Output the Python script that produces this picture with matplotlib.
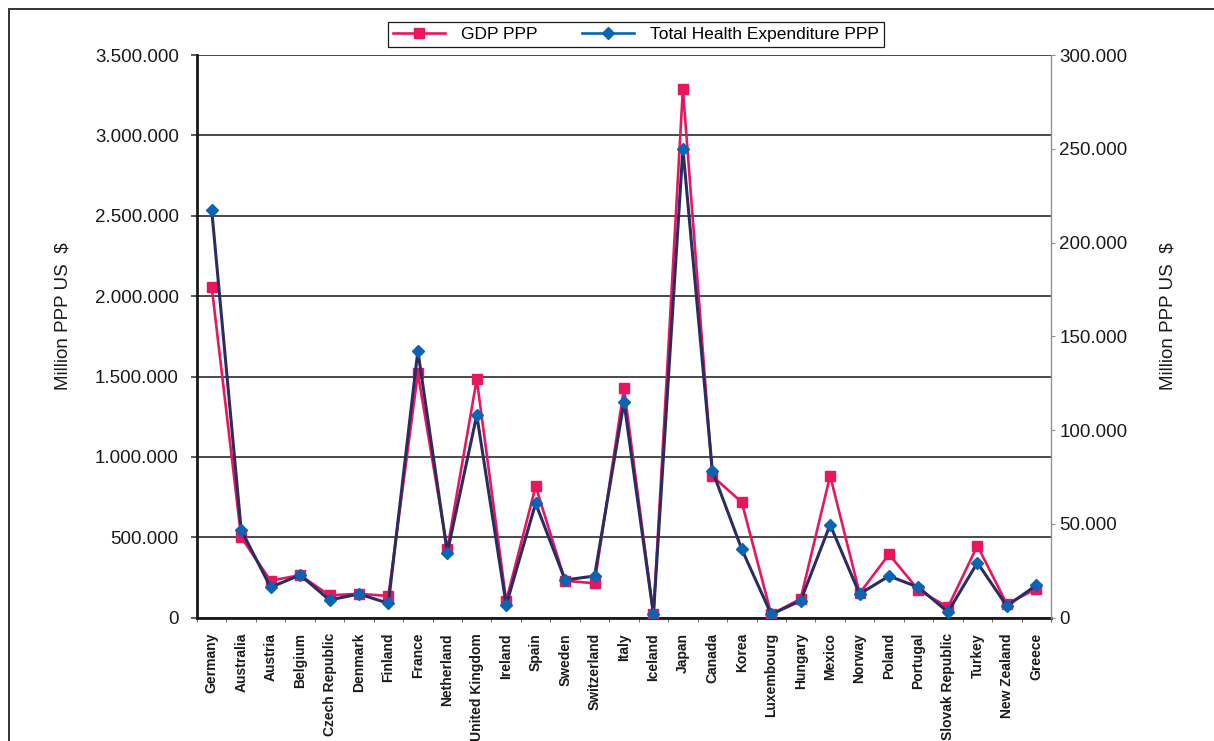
import matplotlib
matplotlib.use("Agg")
import matplotlib.pyplot as plt
import numpy as np
from matplotlib.lines import Line2D
from matplotlib.patches import Rectangle
from matplotlib.ticker import FuncFormatter, MultipleLocator

plt.rcParams['font.family'] = ['Liberation Sans', 'DejaVu Sans']

countries = ["Germany", "Australia", "Austria", "Belgium", "Czech Republic",
             "Denmark", "Finland", "France", "Netherland", "United Kingdom",
             "Ireland", "Spain", "Sweden", "Switzerland", "Italy", "Iceland",
             "Japan", "Canada", "Korea", "Luxembourg", "Hungary", "Mexico",
             "Norway", "Poland", "Portugal", "Slovak Republic", "Turkey",
             "New Zealand", "Greece"]

# million PPP US $
gdp_ppp = [2057000, 500000, 230000, 265000, 139000, 149000, 135000, 1520000,
           427000, 1483000, 104000, 817000, 230000, 214000, 1427000, 21000,
           3288000, 881000, 718000, 21000, 118000, 883000, 152000, 394000,
           172000, 65000, 448000, 85000, 180000]
health_ppp = [217300, 46750, 16200, 22760, 9440, 12630, 7680, 142300,
              34650, 108060, 6770, 60990, 20100, 22230, 115000, 1810,
              250000, 78370, 36460, 1810, 9060, 49580, 12630, 22230,
              16200, 3040, 29320, 6240, 17270]

pink = "#e8175d"
navy = "#2b2c63"
blue = "#0a64b4"

def dotted(v, pos):
    return "{:,.0f}".format(v).replace(",", ".")

fig = plt.figure(figsize=(12.14, 7.41), dpi=100)
ax = fig.add_axes([197 / 1214, 1 - 617.7 / 741, 854 / 1214, 562.7 / 741])
ax2 = ax.twinx()

x = np.arange(len(countries))
ax.plot(x, gdp_ppp, color=pink, lw=1.9, marker="s", ms=6.5,
        mfc=pink, mec=pink, zorder=3)
ax2.plot(x, health_ppp, color=navy, lw=2.2, marker="D", ms=5.8,
         mfc=blue, mec=blue, zorder=3)

ax.set_xlim(-0.5, len(countries) - 0.5)
ax.set_ylim(0, 3500000)
ax2.set_ylim(0, 300000)

ax.yaxis.set_major_locator(MultipleLocator(500000))
ax.yaxis.set_major_formatter(FuncFormatter(dotted))
ax2.yaxis.set_major_locator(MultipleLocator(50000))
ax2.yaxis.set_major_formatter(FuncFormatter(dotted))

ax.grid(axis="y", color="#3c3c3c", lw=1.3)
ax.set_axisbelow(True)

ax.set_xticks(x)
ax.set_xticklabels(countries, rotation=90, fontsize=10, fontweight="bold",
                   color="#1a1a1a")
ax.set_xticks(np.arange(-0.5, len(countries)), minor=True)
ax.tick_params(axis="x", which="major", length=0, pad=11)
ax.tick_params(axis="x", which="minor", length=3, color="#555555")
ax.tick_params(axis="y", length=4, width=1.2, color="#3c3c3c",
               labelsize=13.5, pad=9, labelcolor="#1a1a1a")
ax2.tick_params(axis="y", length=3, width=0.8, color="#909090",
                labelsize=13.5, pad=3, labelcolor="#1a1a1a")

for side in ["top", "right"]:
    ax.spines[side].set_visible(False)
ax2.spines["top"].set_visible(False)
ax2.spines["left"].set_visible(False)
ax2.spines["bottom"].set_visible(False)
ax.spines["left"].set_linewidth(2)
ax.spines["left"].set_color("#1a1a1a")
ax.spines["bottom"].set_linewidth(2)
ax.spines["bottom"].set_color("#1a1a1a")
ax2.spines["right"].set_color("#909090")
ax2.spines["right"].set_linewidth(1)

ax.set_ylabel("Million PPP US  $", fontsize=13.5, color="#1a1a1a")
ax.yaxis.set_label_coords(-0.1475, 0.535)
ax2.set_ylabel("Million PPP US  $", fontsize=13.5, color="#1a1a1a")
ax2.yaxis.set_label_coords(1.1276, 0.535)

handles = [Line2D([], [], color=pink, lw=1.9, marker="s", ms=6.5),
           Line2D([], [], color=blue, lw=1.9, marker="D", ms=6)]
leg = fig.legend(handles, ["GDP PPP", "Total Health Expenditure PPP"],
                 loc="upper center", bbox_to_anchor=(636 / 1214, 1 - 13 / 741),
                 ncol=2, fontsize=12.5, frameon=True, fancybox=False,
                 edgecolor="#1a1a1a", framealpha=1, handlelength=3.0,
                 columnspacing=2.6, borderpad=0.3, handletextpad=0.9)
leg.get_frame().set_linewidth(0.9)

fig.patches.append(Rectangle((9 / 1214, -0.1), 1.2, 1.1 - 9 / 741,
                             transform=fig.transFigure, fill=False,
                             edgecolor="#333333", lw=1.4))

fig.savefig("out.png", dpi=100)
